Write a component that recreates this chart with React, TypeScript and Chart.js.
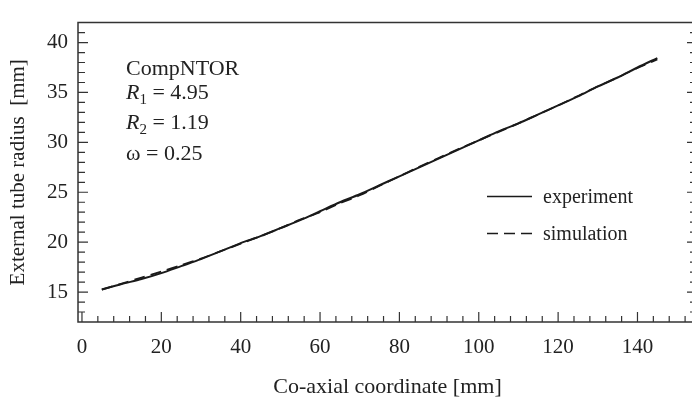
import React, { useEffect, useRef } from "react";
import { Chart, registerables } from "chart.js";

Chart.register(...registerables);

const xValues = [5, 10, 15, 20, 25, 30, 35, 40, 45, 50, 55, 60, 65, 70, 75, 80, 85, 90, 95, 100, 105, 110, 115, 120, 125, 130, 135, 140, 145];
const experimentValues = [15.25, 15.8, 16.3, 16.9, 17.6, 18.3, 19.1, 19.9, 20.6, 21.4, 22.2, 23.1, 24.0, 24.8, 25.7, 26.6, 27.5, 28.4, 29.3, 30.2, 31.1, 31.9, 32.8, 33.7, 34.6, 35.6, 36.5, 37.5, 38.45];
const simulationValues = [15.25, 15.85, 16.45, 17.05, 17.7, 18.35, 19.1, 19.85, 20.6, 21.4, 22.25, 23.0, 23.9, 24.7, 25.65, 26.6, 27.55, 28.45, 29.35, 30.2, 31.05, 31.9, 32.8, 33.7, 34.65, 35.6, 36.5, 37.45, 38.3];
const xTickValues = [0, 20, 40, 60, 80, 100, 120, 140];
const yTickValues = [15, 20, 25, 30, 35, 40];

const X_MIN = -1;
const X_MAX = 155;
const Y_MIN = 12;
const Y_MAX = 42;

const SERIF = "'Liberation Serif', 'Times New Roman', serif";
const INK = "#222";

const annotationPlugin = {
  id: "frameAndNotes",
  afterDraw(chart: any) {
    const { ctx, chartArea } = chart;
    const xs = chart.scales.x;
    const ys = chart.scales.y;
    const { left, right, top, bottom } = chartArea;
    ctx.save();
    ctx.strokeStyle = "#333";
    ctx.lineWidth = 1.5;
    // frame (left, bottom, top)
    ctx.beginPath();
    ctx.moveTo(right, top);
    ctx.lineTo(left, top);
    ctx.lineTo(left, bottom);
    ctx.lineTo(right, bottom);
    ctx.stroke();

    ctx.lineWidth = 1.2;
    // x ticks (inward)
    for (let v = 4; v <= 152; v += 4) {
      const px = xs.getPixelForValue(v);
      const len = v % 20 === 0 ? 10 : 6;
      ctx.beginPath();
      ctx.moveTo(px, bottom);
      ctx.lineTo(px, bottom - len);
      ctx.stroke();
    }
    {
      const px = xs.getPixelForValue(0);
      ctx.beginPath();
      ctx.moveTo(px, bottom);
      ctx.lineTo(px, bottom - 10);
      ctx.stroke();
    }
    // y ticks (inward), left and right
    for (let v = 13; v <= 41; v += 1) {
      const py = ys.getPixelForValue(v);
      const len = v % 5 === 0 ? 10 : 7;
      ctx.beginPath();
      ctx.moveTo(left, py);
      ctx.lineTo(left + len, py);
      ctx.moveTo(right, py);
      ctx.lineTo(right - len, py);
      ctx.stroke();
    }

    // annotation text
    ctx.fillStyle = INK;
    ctx.textAlign = "left";
    ctx.textBaseline = "alphabetic";
    const ax = left + 48;
    ctx.font = `22px ${SERIF}`;
    ctx.fillText("CompNTOR", ax, top + 52);

    const drawR = (sub: string, rest: string, baseline: number) => {
      ctx.font = `italic 22px ${SERIF}`;
      ctx.fillText("R", ax, baseline);
      let w = ctx.measureText("R").width;
      ctx.font = `15px ${SERIF}`;
      ctx.fillText(sub, ax + w, baseline + 5);
      w += ctx.measureText(sub).width;
      ctx.font = `22px ${SERIF}`;
      ctx.fillText(rest, ax + w, baseline);
    };
    drawR("1", " = 4.95", top + 76);
    drawR("2", " = 1.19", top + 106);
    ctx.font = `22px ${SERIF}`;
    ctx.fillText("\u03c9 = 0.25", ax, top + 137);

    // legend
    const ds = chart.data.datasets;
    const lx0 = 487;
    const lx1 = 532;
    const rows = [196.5, 233.5];
    ds.forEach((d: any, i: number) => {
      const y = rows[i];
      ctx.strokeStyle = d.borderColor;
      ctx.lineWidth = 1.6;
      ctx.setLineDash(d.borderDash || []);
      ctx.beginPath();
      ctx.moveTo(lx0, y);
      ctx.lineTo(lx1, y);
      ctx.stroke();
      ctx.setLineDash([]);
      ctx.font = `20px ${SERIF}`;
      ctx.fillStyle = INK;
      ctx.fillText(d.label, 543, y + 6.5);
    });
    ctx.restore();
  },
};

export default function App() {
  const canvasRef = useRef<HTMLCanvasElement | null>(null);

  useEffect(() => {
    const canvas = canvasRef.current;
    if (!canvas) return;
    const chart = new Chart(canvas, {
      type: "line",
      data: {
        datasets: [
          {
            label: "experiment",
            data: xValues.map((x, i) => ({ x, y: experimentValues[i] })),
            borderColor: "#1a1a1a",
            borderWidth: 2,
            pointRadius: 0,
            tension: 0.3,
            fill: false,
          },
          {
            label: "simulation",
            data: xValues.map((x, i) => ({ x, y: simulationValues[i] })),
            borderColor: "#1a1a1a",
            borderWidth: 1.8,
            borderDash: [11, 6],
            pointRadius: 0,
            tension: 0.3,
            fill: false,
          },
        ],
      },
      options: {
        animation: false,
        responsive: false,
        devicePixelRatio: 1,
        layout: { padding: { left: 0, top: 11, right: 5, bottom: 0 } },
        plugins: {
          legend: { display: false },
          tooltip: { enabled: false },
        },
        scales: {
          x: {
            type: "linear",
            min: X_MIN,
            max: X_MAX,
            afterBuildTicks: (scale: any) => {
              scale.ticks = xTickValues.map((v) => ({ value: v }));
            },
            afterFit: (scale: any) => {
              scale.height = 75;
            },
            grid: { display: false, drawTicks: false },
            border: { display: false },
            ticks: {
              color: INK,
              font: { family: SERIF, size: 21 },
              padding: 13,
              maxRotation: 0,
              autoSkip: false,
            },
            title: {
              display: true,
              text: "Co-axial coordinate [mm]",
              color: INK,
              font: { family: SERIF, size: 22, lineHeight: 1 },
              padding: { top: 0, bottom: -1 },
            },
          },
          y: {
            type: "linear",
            min: Y_MIN,
            max: Y_MAX,
            afterBuildTicks: (scale: any) => {
              scale.ticks = yTickValues.map((v) => ({ value: v }));
            },
            afterFit: (scale: any) => {
              scale.width = 78;
            },
            grid: { display: false, drawTicks: false },
            border: { display: false },
            ticks: {
              color: INK,
              font: { family: SERIF, size: 21 },
              padding: 10,
              autoSkip: false,
            },
            title: {
              display: true,
              text: "External tube radius  [mm]",
              color: INK,
              font: { family: SERIF, size: 21, lineHeight: 1 },
              padding: { top: 8, bottom: 0 },
            },
          },
        },
      },
      plugins: [annotationPlugin],
    } as any);
    return () => chart.destroy();
  }, []);

  return (
    <div style={{ position: "absolute", left: 0, top: 0, width: 692, height: 397, overflow: "hidden", background: "#fff" }}>
      <canvas ref={canvasRef} width={702} height={397} style={{ display: "block", width: 702, height: 397 }} />
    </div>
  );
}
